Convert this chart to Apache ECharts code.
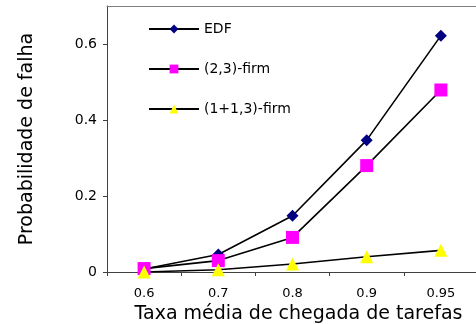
<!DOCTYPE html>
<html>
<head>
<meta charset="utf-8">
<script src="https://cdn.jsdelivr.net/npm/echarts@6/dist/echarts.min.js"></script>
<style>
html,body{margin:0;padding:0;background:#fff;overflow:hidden;width:476px;height:324px;}
#c{width:484px;height:324px;}
</style>
</head>
<body>
<div id="c"></div>
<script>
var categories = ['0.6', '0.7', '0.8', '0.9', '0.95'];
var seriesNames = ['EDF', '(2,3)-firm', '(1+1,3)-firm'];
var edf = [0.008, 0.046, 0.148, 0.347, 0.622];
var firm23 = [0.009, 0.030, 0.091, 0.280, 0.479];
var firm113 = [0.000, 0.006, 0.021, 0.040, 0.057];
var yTicks = [0, 0.2, 0.4, 0.6];

var FONT = 'DejaVu Sans';
var chart = echarts.init(document.getElementById('c'), null, {renderer: 'canvas'});

function mk(name, data, symbol, size, color) {
  return {
    name: name, type: 'line', data: data, xAxisIndex: 0,
    symbol: symbol, symbolSize: size, showAllSymbol: true,
    lineStyle: {color: '#000', width: 1.6},
    itemStyle: {color: color, borderWidth: 0},
    emphasis: {disabled: true},
    animation: false
  };
}

chart.setOption({
  animation: false,
  backgroundColor: '#fff',
  grid: {left: 107, top: 6, width: 371, height: 266, show: false, outerBoundsMode: 'none', containLabel: false},
  legend: {
    orient: 'vertical', left: 148, top: 22, padding: 0,
    itemWidth: 50, itemHeight: 11, itemGap: 26,
    textStyle: {fontFamily: FONT, fontSize: 14, color: '#000'},
    data: seriesNames
  },
  xAxis: [{
    type: 'category', data: categories, boundaryGap: true,
    axisLine: {lineStyle: {color: '#404040', width: 1}},
    axisTick: {show: true, length: 4, lineStyle: {color: '#404040'}},
    axisLabel: {fontFamily: FONT, fontSize: 13, color: '#000', margin: 15},
    splitLine: {show: false},
    name: 'Taxa média de chegada de tarefas',
    nameLocation: 'middle', nameGap: 31,
    nameTextStyle: {fontFamily: FONT, fontSize: 19, color: '#000', padding: [0, 0, 0, 12]}
  }, {
    type: 'category', data: categories, position: 'top',
    axisLine: {show: true, lineStyle: {color: '#808080', width: 1}},
    axisTick: {show: false}, axisLabel: {show: false}, splitLine: {show: false}
  }],
  yAxis: {
    type: 'value', min: 0, max: 0.7, interval: 0.2,
    axisLine: {show: true, lineStyle: {color: '#404040', width: 1}},
    axisTick: {show: true, length: 4, lineStyle: {color: '#404040'}, customValues: yTicks},
    axisLabel: {fontFamily: FONT, fontSize: 14, color: '#000', margin: 10, customValues: yTicks},
    splitLine: {show: false},
    name: 'Probabilidade de falha',
    nameLocation: 'middle', nameGap: 70,
    nameTextStyle: {fontFamily: FONT, fontSize: 19, color: '#000'}
  },
  series: [
    mk(seriesNames[0], edf, 'diamond', 12, '#000080'),
    mk(seriesNames[1], firm23, 'rect', 13, '#ff00ff'),
    mk(seriesNames[2], firm113, 'triangle', 13, '#ffff00')
  ]
});
</script>
</body>
</html>
